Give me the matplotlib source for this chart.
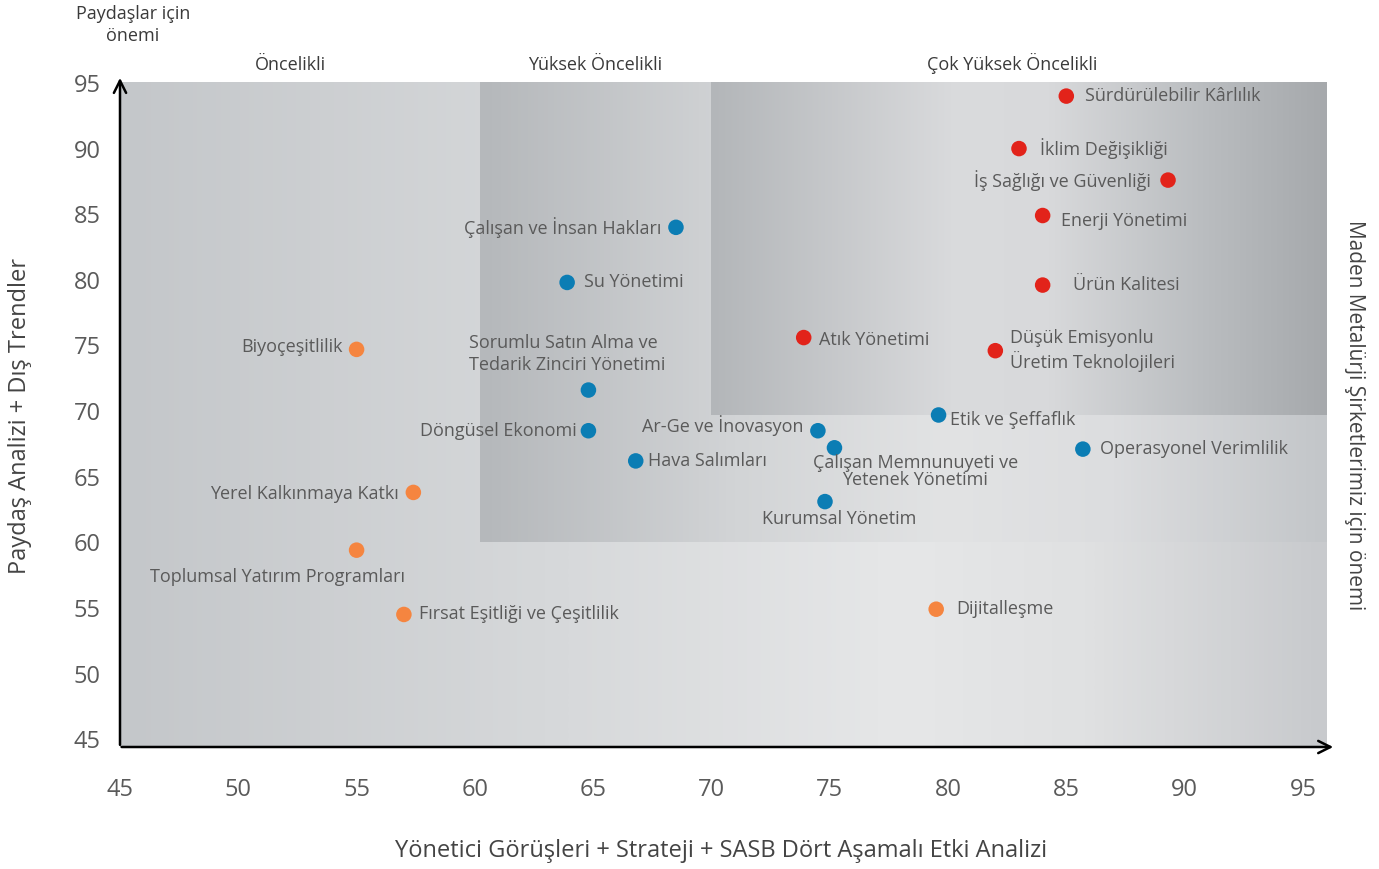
import numpy as np
import matplotlib
matplotlib.use('Agg')
import matplotlib.pyplot as plt
from matplotlib.colors import LinearSegmentedColormap

plt.rcParams['font.family'] = ['Open Sans', 'DejaVu Sans']

# ---------------------------------------------------------------------------
# Data
# ---------------------------------------------------------------------------
red_names = ["Sürdürülebilir Kârlılık", "İklim Değişikliği", "İş Sağlığı ve Güvenliği",
             "Enerji Yönetimi", "Ürün Kalitesi", "Atık Yönetimi",
             "Düşük Emisyonlu\nÜretim Teknolojileri"]
red_x = [85.0, 83.0, 89.3, 84.0, 84.0, 73.9, 82.0]
red_y = [94.0, 90.0, 87.6, 84.9, 79.6, 75.6, 74.6]

blue_names = ["Çalışan ve İnsan Hakları", "Su Yönetimi",
              "Sorumlu Satın Alma ve\nTedarik Zinciri Yönetimi", "Döngüsel Ekonomi",
              "Hava Salımları", "Ar-Ge ve İnovasyon",
              "Çalışan Memnunuyeti ve\nYetenek Yönetimi", "Kurumsal Yönetim",
              "Etik ve Şeffaflık", "Operasyonel Verimlilik"]
blue_x = [68.5, 63.9, 64.8, 64.8, 66.8, 74.5, 75.2, 74.8, 79.6, 85.7]
blue_y = [84.0, 79.8, 71.6, 68.5, 66.2, 68.5, 67.2, 63.1, 69.7, 67.1]

orange_names = ["Biyoçeşitlilik", "Yerel Kalkınmaya Katkı", "Toplumsal Yatırım Programları",
                "Fırsat Eşitliği ve Çeşitlilik", "Dijitalleşme"]
orange_x = [55.0, 57.4, 55.0, 57.0, 79.5]
orange_y = [74.7, 63.8, 59.4, 54.5, 54.9]

zone_names = ["Öncelikli", "Yüksek Öncelikli", "Çok Yüksek Öncelikli"]
zone_x0 = [45, 60.2, 70]
zone_y0 = [44.4, 60, 69.7]
zone_x1 = 96
zone_y1 = 95

ticks = [45, 50, 55, 60, 65, 70, 75, 80, 85, 90, 95]

# label placement in pixels: (dx, dy, ha, linespacing)
red_pos = [(19, 0, 'left', 1), (21, 0, 'left', 1), (-17, 0, 'right', 1), (18, -5, 'left', 1),
           (30, 0, 'left', 1), (15, -2, 'left', 1), (15, 0, 'left', 1.25)]
blue_pos = [(-15, 0, 'right', 1), (17, 0, 'left', 1), (-119, 36, 'left', 1.25),
            (-12, 0, 'right', 1), (12, 0, 'left', 1), (-14, 5, 'right', 1),
            (81, -24, 'center', 0.95), (14, -17, 'center', 1), (11, -5, 'left', 1),
            (17, 0, 'left', 1)]
orange_pos = [(-14, 2, 'right', 1), (-15, -2, 'right', 1), (-79, -27, 'center', 1),
              (15, 0, 'left', 1), (20, 0, 'left', 1)]

RED = '#e2231a'
BLUE = '#0b7db4'
ORANGE = '#f58540'
TXT = '#5a5a5a'

fig = plt.figure(figsize=(13.79, 8.69), dpi=100)
ax = fig.add_axes([120 / 1379, 122 / 869, 1216 / 1379, 671.9 / 869])


def gradient(x0, x1, y0, y1, stops, z):
    cmap = LinearSegmentedColormap.from_list('g', stops)
    img = np.linspace(0, 1, 256).reshape(1, -1)
    ax.imshow(img, cmap=cmap, extent=(x0, x1, y0, y1), aspect='auto', zorder=z,
              interpolation='bicubic')


gradient(zone_x0[0], zone_x1, zone_y0[0], zone_y1,
         [(0, '#c4c7ca'), (0.35, '#d6d8da'), (0.65, '#e6e7e8'), (0.8, '#e0e1e2'), (1, '#c8cacd')], 1)
gradient(zone_x0[1], zone_x1, zone_y0[1], zone_y1,
         [(0, '#b5b8bb'), (0.3, '#d2d4d6'), (0.55, '#e2e3e4'), (0.75, '#dcdddf'), (1, '#c3c6c9')], 2)
gradient(zone_x0[2], zone_x1, zone_y0[2], zone_y1,
         [(0, '#b3b6b9'), (0.4, '#dadbdd'), (0.55, '#d8d9db'), (0.8, '#babdc0'), (1, '#a6a9ac')], 3)

ax.set_xlim(45, 96.4)
ax.set_ylim(44.4, 95.6)

for names, xs, ys, pos, col in [(red_names, red_x, red_y, red_pos, RED),
                                (blue_names, blue_x, blue_y, blue_pos, BLUE),
                                (orange_names, orange_x, orange_y, orange_pos, ORANGE)]:
    ax.scatter(xs, ys, s=125, color=col, edgecolors='none', zorder=5)
    for name, x, y, (dx, dy, ha, ls) in zip(names, xs, ys, pos):
        ax.annotate(name, (x, y), xytext=(dx * 0.72, dy * 0.72), textcoords='offset points',
                    ha=ha, va='center', multialignment=ha, fontsize=13, color=TXT,
                    linespacing=ls, zorder=6)

# axes with arrows
for s in ax.spines.values():
    s.set_visible(False)
ax.annotate('', xy=(96.4, 44.4), xytext=(44.95, 44.4),
            arrowprops=dict(arrowstyle='->', lw=1.8, color='black', mutation_scale=22),
            zorder=7, annotation_clip=False)
ax.annotate('', xy=(45, 95.6), xytext=(45, 44.35),
            arrowprops=dict(arrowstyle='->', lw=1.8, color='black', mutation_scale=22),
            zorder=7, annotation_clip=False)

ax.set_xticks(ticks)
ax.set_yticks(ticks)
ax.tick_params(length=0, labelsize=17, labelcolor=TXT)
ax.tick_params(axis='x', pad=22)
ax.tick_params(axis='y', pad=14)

# zone titles
for name, xc in zip(zone_names, [52.2, 65.1, 82.7]):
    ax.text(xc, 96.0, name, ha='center', va='baseline', fontsize=13,
            color='#3a3a3a', clip_on=False)

fig.text(133 / 1379, 1 - 25 / 869, "Paydaşlar için\nönemi", ha='center', va='center',
         fontsize=13, color='#3a3a3a', linespacing=1.3)
fig.text(20 / 1379, 1 - 416 / 869, "Paydaş Analizi + Dış Trendler", rotation=90,
         ha='center', va='center', fontsize=17, color='#444444')
fig.text(1355 / 1379, 1 - 415 / 869, "Maden Metalürji Şirketlerimiz için önemi", rotation=270,
         ha='center', va='center', fontsize=15, color='#444444')
fig.text(721 / 1379, 1 - 851 / 869, "Yönetici Görüşleri + Strateji + SASB Dört Aşamalı Etki Analizi",
         ha='center', va='center', fontsize=17, color='#444444')

fig.savefig('out.png', dpi=100)
